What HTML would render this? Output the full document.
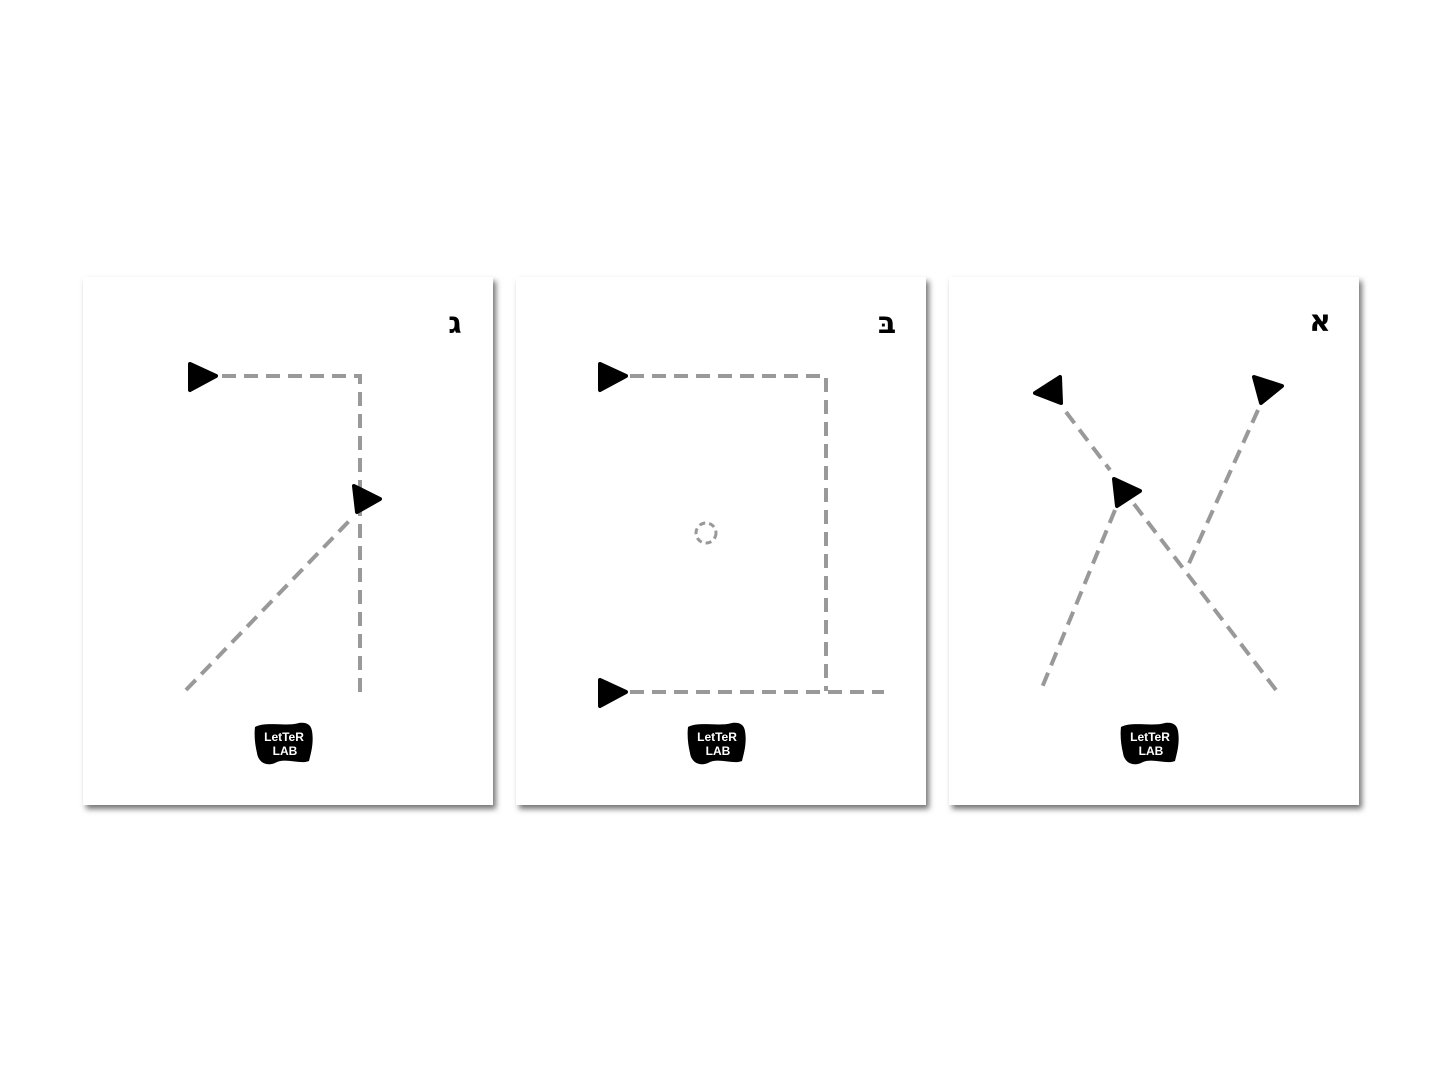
<!DOCTYPE html>
<html><head><meta charset="utf-8"><style>
html,body{margin:0;padding:0;background:#fff;width:1440px;height:1080px;overflow:hidden}
</style></head><body>
<svg width="1440" height="1080" viewBox="0 0 1440 1080" xmlns="http://www.w3.org/2000/svg">
<defs>
<filter id="sh" x="-5%" y="-5%" width="115%" height="115%"><feDropShadow dx="3" dy="4" stdDeviation="3" flood-color="#000" flood-opacity="0.55"/></filter>
<g id="logo">
<path d="M0,4 C12,-2 30,4 44,0 C52,-1 56,2 57,8 C59,20 56,30 54,38 C45,42 30,34 20,40 C10,44 3,38 2,30 C0,22 -1,12 0,4 Z" fill="#000"/>
<text x="29" y="18" text-anchor="middle" font-family="Liberation Sans, sans-serif" font-weight="bold" font-size="12" fill="#fff">LetTeR</text>
<text x="30" y="32" text-anchor="middle" font-family="Liberation Sans, sans-serif" font-weight="bold" font-size="12" fill="#fff">LAB</text>
</g>
</defs>
<g filter="url(#sh)">
<rect x="83" y="277" width="410" height="528" fill="#fff"/>
<rect x="516" y="277" width="410" height="528" fill="#fff"/>
<rect x="949" y="277" width="410" height="528" fill="#fff"/>
</g>
<g fill="none" stroke="#999" stroke-width="4" stroke-dasharray="14 8">
<polyline points="222,376 360,376 360,694"/>
<line x1="186" y1="690" x2="352" y2="518"/>
<polyline points="630,376 826,376 826,691"/>
<line x1="630" y1="692" x2="884" y2="692"/>
<circle cx="706" cy="533" r="10" stroke-width="3" stroke-dasharray="6 4"/>
<line x1="1066" y1="412" x2="1110" y2="470"/>
<line x1="1134" y1="504" x2="1276" y2="690"/>
<line x1="1115" y1="510" x2="1041" y2="690"/>
<line x1="1258" y1="410" x2="1186" y2="570"/>
</g>
<g fill="#000" stroke="#000" stroke-width="4" stroke-linejoin="round">
<polygon points="190,364 216,376 190,390"/>
<polygon points="354,486 380,499 357,512"/>
<polygon points="600,364 626,376 600,390"/>
<polygon points="600,680 626,692 600,706"/>
<polygon points="1035,393 1060,377 1061,403"/>
<polygon points="1114,479 1140,491 1117,506"/>
<polygon points="1254,377 1282,386 1261,403"/>
</g>
<g font-family="DejaVu Serif, DejaVu Sans, serif" font-weight="bold" font-size="30" fill="#000" text-anchor="middle">
<text x="455" y="333">ג</text>
<text x="887" y="333">בּ</text>
<text x="1320" y="331">א</text>
</g>
<use href="#logo" x="255" y="723"/>
<use href="#logo" x="688" y="723"/>
<use href="#logo" x="1121" y="723"/>
</svg>
</body></html>
